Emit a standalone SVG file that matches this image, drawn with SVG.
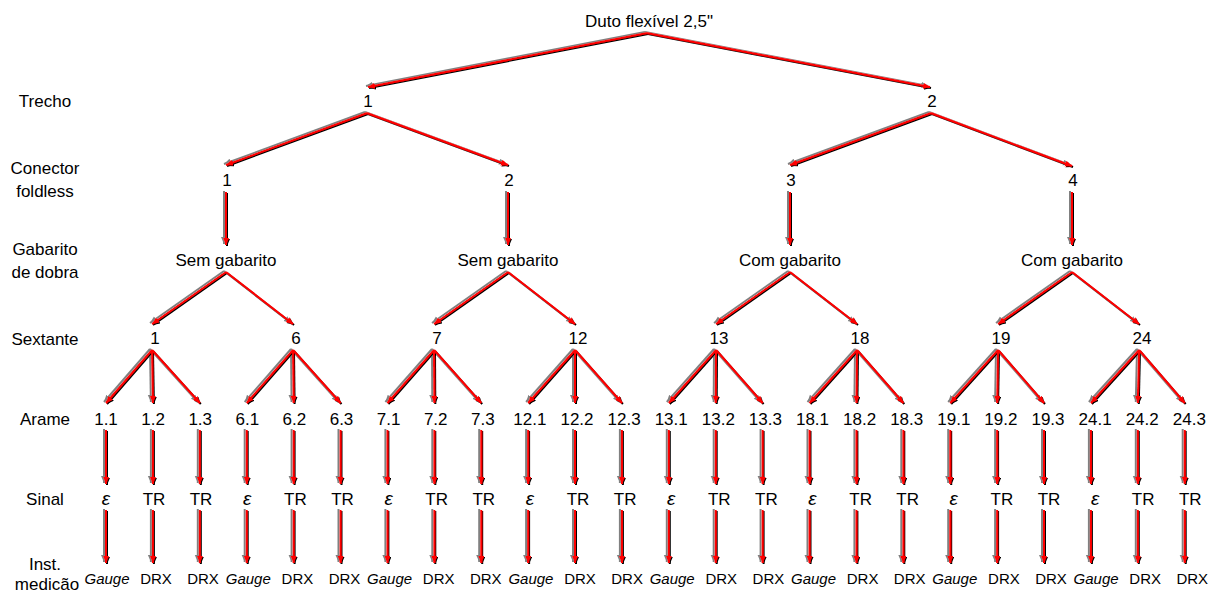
<svg xmlns="http://www.w3.org/2000/svg" width="1217" height="592" viewBox="0 0 1217 592">
<style>
text{font-family:"Liberation Sans",Arial,sans-serif;font-size:17px;text-anchor:middle;fill:#000}
.lvl{font-size:17px}
.eps{font-style:italic;font-size:19px}
.ins{font-size:15px}
.gau{font-size:15px;font-style:italic}
#connectors path{fill:none;stroke:#ff0000;stroke-width:2;marker-end:url(#ah)}
</style>
<defs>
<marker id="ah" markerUnits="userSpaceOnUse" markerWidth="8" markerHeight="7" refX="7" refY="3" orient="auto">
<path d="M0,0 L7,3 L0,6 z" fill="#ff0000"/>
</marker>
<filter id="sh" filterUnits="userSpaceOnUse" x="0" y="0" width="1217" height="592">
<feOffset in="SourceAlpha" dx="-2" dy="-1" result="o1"/>
<feFlood flood-color="#808080" result="f1"/>
<feComposite in="f1" in2="o1" operator="in" result="g"/>
<feOffset in="SourceAlpha" dx="1" dy="1" result="o2"/>
<feFlood flood-color="#000000" result="f2"/>
<feComposite in="f2" in2="o2" operator="in" result="k"/>
<feMerge><feMergeNode in="g"/><feMergeNode in="k"/><feMergeNode in="SourceGraphic"/></feMerge>
</filter>
</defs>
<rect width="1217" height="592" fill="#fff"/>

<g id="connectors" filter="url(#sh)">
<path d="M647,33 L368,87"/>
<path d="M647,33 L930,87"/>
<path d="M367,113 L226,165"/>
<path d="M367,113 L508,165"/>
<path d="M931,113 L790,165"/>
<path d="M931,113 L1072,166"/>
<path d="M226,192 L226,245"/>
<path d="M508,192 L508,245"/>
<path d="M790,192 L790,245"/>
<path d="M1072,192 L1072,245"/>
<path d="M226,272 L152,324"/>
<path d="M226,272 L293,324"/>
<path d="M508,272 L434,324"/>
<path d="M508,272 L575,324"/>
<path d="M790,272 L716,324"/>
<path d="M790,272 L857,324"/>
<path d="M1072,272 L998,324"/>
<path d="M1072,272 L1139,324"/>
<path d="M152,350 L106,403"/>
<path d="M152,350 L152.9,403"/>
<path d="M152,350 L199.8,403"/>
<path d="M293,350 L246.7,403"/>
<path d="M293,350 L293.6,403"/>
<path d="M293,350 L340.5,403"/>
<path d="M434,350 L387.4,403"/>
<path d="M434,350 L434.3,403"/>
<path d="M434,350 L481.2,403"/>
<path d="M575,350 L528.1,403"/>
<path d="M575,350 L575,403"/>
<path d="M575,350 L621.9,403"/>
<path d="M716,350 L668.8,403"/>
<path d="M716,350 L715.7,403"/>
<path d="M716,350 L762.6,403"/>
<path d="M857,350 L809.5,403"/>
<path d="M857,350 L856.4,403"/>
<path d="M857,350 L903.3,403"/>
<path d="M998,350 L950.2,403"/>
<path d="M998,350 L997.1,403"/>
<path d="M998,350 L1044,403"/>
<path d="M1139,350 L1090.9,403"/>
<path d="M1139,350 L1137.8,403"/>
<path d="M1139,350 L1184.7,403"/>
<path d="M106,430 L106,484"/><path d="M152.9,430 L152.9,484"/><path d="M199.8,430 L199.8,484"/>
<path d="M246.7,430 L246.7,484"/><path d="M293.6,430 L293.6,484"/><path d="M340.5,430 L340.5,484"/>
<path d="M387.4,430 L387.4,484"/><path d="M434.3,430 L434.3,484"/><path d="M481.2,430 L481.2,484"/>
<path d="M528.1,430 L528.1,484"/><path d="M575,430 L575,484"/><path d="M621.9,430 L621.9,484"/>
<path d="M668.8,430 L668.8,484"/><path d="M715.7,430 L715.7,484"/><path d="M762.6,430 L762.6,484"/>
<path d="M809.5,430 L809.5,484"/><path d="M856.4,430 L856.4,484"/><path d="M903.3,430 L903.3,484"/>
<path d="M950.2,430 L950.2,484"/><path d="M997.1,430 L997.1,484"/><path d="M1044,430 L1044,484"/>
<path d="M1090.9,430 L1090.9,484"/><path d="M1137.8,430 L1137.8,484"/><path d="M1184.7,430 L1184.7,484"/>
<path d="M106,510 L106,563"/><path d="M152.9,510 L152.9,563"/><path d="M199.8,510 L199.8,563"/>
<path d="M246.7,510 L246.7,563"/><path d="M293.6,510 L293.6,563"/><path d="M340.5,510 L340.5,563"/>
<path d="M387.4,510 L387.4,563"/><path d="M434.3,510 L434.3,563"/><path d="M481.2,510 L481.2,563"/>
<path d="M528.1,510 L528.1,563"/><path d="M575,510 L575,563"/><path d="M621.9,510 L621.9,563"/>
<path d="M668.8,510 L668.8,563"/><path d="M715.7,510 L715.7,563"/><path d="M762.6,510 L762.6,563"/>
<path d="M809.5,510 L809.5,563"/><path d="M856.4,510 L856.4,563"/><path d="M903.3,510 L903.3,563"/>
<path d="M950.2,510 L950.2,563"/><path d="M997.1,510 L997.1,563"/><path d="M1044,510 L1044,563"/>
<path d="M1090.9,510 L1090.9,563"/><path d="M1137.8,510 L1137.8,563"/><path d="M1184.7,510 L1184.7,563"/>
</g>

<g id="levels">
<g id="lvl-trecho"><text x="45" y="107">Trecho</text></g>
<g id="lvl-conector"><text x="45" y="174">Conector</text><text x="45" y="197">foldless</text></g>
<g id="lvl-gabarito"><text x="45" y="255">Gabarito</text><text x="45" y="278">de dobra</text></g>
<g id="lvl-sextante"><text x="45" y="345">Sextante</text></g>
<g id="lvl-arame"><text x="45" y="425">Arame</text></g>
<g id="lvl-sinal"><text x="45" y="505">Sinal</text></g>
<g id="lvl-inst"><text x="45" y="570">Inst.</text><text x="47" y="590">medicão</text></g>
</g>

<g id="root"><text x="649" y="27">Duto flexível 2,5"</text></g>

<g id="trecho-1"><text x="368" y="107">1</text></g>
<g id="trecho-2"><text x="932" y="107">2</text></g>

<g id="conector-1"><text x="227" y="186">1</text></g>
<g id="conector-2"><text x="509" y="186">2</text></g>
<g id="conector-3"><text x="791" y="186">3</text></g>
<g id="conector-4"><text x="1073" y="186">4</text></g>

<g id="gabarito-1"><text x="226" y="266">Sem gabarito</text></g>
<g id="gabarito-2"><text x="508" y="266">Sem gabarito</text></g>
<g id="gabarito-3"><text x="790" y="266">Com gabarito</text></g>
<g id="gabarito-4"><text x="1072" y="266">Com gabarito</text></g>

<g id="sextante-1"><text x="155" y="344">1</text></g>
<g id="sextante-6"><text x="296" y="344">6</text></g>
<g id="sextante-7"><text x="437" y="344">7</text></g>
<g id="sextante-12"><text x="578" y="344">12</text></g>
<g id="sextante-13"><text x="719" y="344">13</text></g>
<g id="sextante-18"><text x="860" y="344">18</text></g>
<g id="sextante-19"><text x="1001" y="344">19</text></g>
<g id="sextante-24"><text x="1142" y="344">24</text></g>

<g id="arame-1-1"><text x="106" y="425">1.1</text></g>
<g id="arame-1-2"><text x="153.1" y="425">1.2</text></g>
<g id="arame-1-3"><text x="200.2" y="425">1.3</text></g>
<g id="arame-6-1"><text x="247.3" y="425">6.1</text></g>
<g id="arame-6-2"><text x="294.4" y="425">6.2</text></g>
<g id="arame-6-3"><text x="341.5" y="425">6.3</text></g>
<g id="arame-7-1"><text x="388.6" y="425">7.1</text></g>
<g id="arame-7-2"><text x="435.7" y="425">7.2</text></g>
<g id="arame-7-3"><text x="482.8" y="425">7.3</text></g>
<g id="arame-12-1"><text x="529.9" y="425">12.1</text></g>
<g id="arame-12-2"><text x="577" y="425">12.2</text></g>
<g id="arame-12-3"><text x="624.1" y="425">12.3</text></g>
<g id="arame-13-1"><text x="671.2" y="425">13.1</text></g>
<g id="arame-13-2"><text x="718.3" y="425">13.2</text></g>
<g id="arame-13-3"><text x="765.4" y="425">13.3</text></g>
<g id="arame-18-1"><text x="812.5" y="425">18.1</text></g>
<g id="arame-18-2"><text x="859.6" y="425">18.2</text></g>
<g id="arame-18-3"><text x="906.7" y="425">18.3</text></g>
<g id="arame-19-1"><text x="953.8" y="425">19.1</text></g>
<g id="arame-19-2"><text x="1000.9" y="425">19.2</text></g>
<g id="arame-19-3"><text x="1048" y="425">19.3</text></g>
<g id="arame-24-1"><text x="1095.1" y="425">24.1</text></g>
<g id="arame-24-2"><text x="1142.2" y="425">24.2</text></g>
<g id="arame-24-3"><text x="1189.3" y="425">24.3</text></g>

<g id="sinal-1-1"><text class="eps" x="106" y="505">ε</text></g>
<g id="sinal-1-2"><text x="154" y="505">TR</text></g>
<g id="sinal-1-3"><text x="201" y="505">TR</text></g>
<g id="sinal-6-1"><text class="eps" x="247.3" y="505">ε</text></g>
<g id="sinal-6-2"><text x="295.4" y="505">TR</text></g>
<g id="sinal-6-3"><text x="342.5" y="505">TR</text></g>
<g id="sinal-7-1"><text class="eps" x="388.6" y="505">ε</text></g>
<g id="sinal-7-2"><text x="436.7" y="505">TR</text></g>
<g id="sinal-7-3"><text x="483.8" y="505">TR</text></g>
<g id="sinal-12-1"><text class="eps" x="529.9" y="505">ε</text></g>
<g id="sinal-12-2"><text x="578" y="505">TR</text></g>
<g id="sinal-12-3"><text x="625.1" y="505">TR</text></g>
<g id="sinal-13-1"><text class="eps" x="671.2" y="505">ε</text></g>
<g id="sinal-13-2"><text x="719.3" y="505">TR</text></g>
<g id="sinal-13-3"><text x="766.4" y="505">TR</text></g>
<g id="sinal-18-1"><text class="eps" x="812.5" y="505">ε</text></g>
<g id="sinal-18-2"><text x="860.6" y="505">TR</text></g>
<g id="sinal-18-3"><text x="907.7" y="505">TR</text></g>
<g id="sinal-19-1"><text class="eps" x="953.8" y="505">ε</text></g>
<g id="sinal-19-2"><text x="1001.9" y="505">TR</text></g>
<g id="sinal-19-3"><text x="1049" y="505">TR</text></g>
<g id="sinal-24-1"><text class="eps" x="1095.1" y="505">ε</text></g>
<g id="sinal-24-2"><text x="1143.2" y="505">TR</text></g>
<g id="sinal-24-3"><text x="1190.3" y="505">TR</text></g>

<g id="inst-1-1"><text class="gau" x="107" y="584">Gauge</text></g>
<g id="inst-1-2"><text class="ins" x="156" y="584">DRX</text></g>
<g id="inst-1-3"><text class="ins" x="203" y="584">DRX</text></g>
<g id="inst-6-1"><text class="gau" x="248.3" y="584">Gauge</text></g>
<g id="inst-6-2"><text class="ins" x="297.4" y="584">DRX</text></g>
<g id="inst-6-3"><text class="ins" x="344.5" y="584">DRX</text></g>
<g id="inst-7-1"><text class="gau" x="389.6" y="584">Gauge</text></g>
<g id="inst-7-2"><text class="ins" x="438.7" y="584">DRX</text></g>
<g id="inst-7-3"><text class="ins" x="485.8" y="584">DRX</text></g>
<g id="inst-12-1"><text class="gau" x="530.9" y="584">Gauge</text></g>
<g id="inst-12-2"><text class="ins" x="580" y="584">DRX</text></g>
<g id="inst-12-3"><text class="ins" x="627.1" y="584">DRX</text></g>
<g id="inst-13-1"><text class="gau" x="672.2" y="584">Gauge</text></g>
<g id="inst-13-2"><text class="ins" x="721.3" y="584">DRX</text></g>
<g id="inst-13-3"><text class="ins" x="768.4" y="584">DRX</text></g>
<g id="inst-18-1"><text class="gau" x="813.5" y="584">Gauge</text></g>
<g id="inst-18-2"><text class="ins" x="862.6" y="584">DRX</text></g>
<g id="inst-18-3"><text class="ins" x="909.7" y="584">DRX</text></g>
<g id="inst-19-1"><text class="gau" x="954.8" y="584">Gauge</text></g>
<g id="inst-19-2"><text class="ins" x="1003.9" y="584">DRX</text></g>
<g id="inst-19-3"><text class="ins" x="1051" y="584">DRX</text></g>
<g id="inst-24-1"><text class="gau" x="1096.1" y="584">Gauge</text></g>
<g id="inst-24-2"><text class="ins" x="1145.2" y="584">DRX</text></g>
<g id="inst-24-3"><text class="ins" x="1192.3" y="584">DRX</text></g>
</svg>
